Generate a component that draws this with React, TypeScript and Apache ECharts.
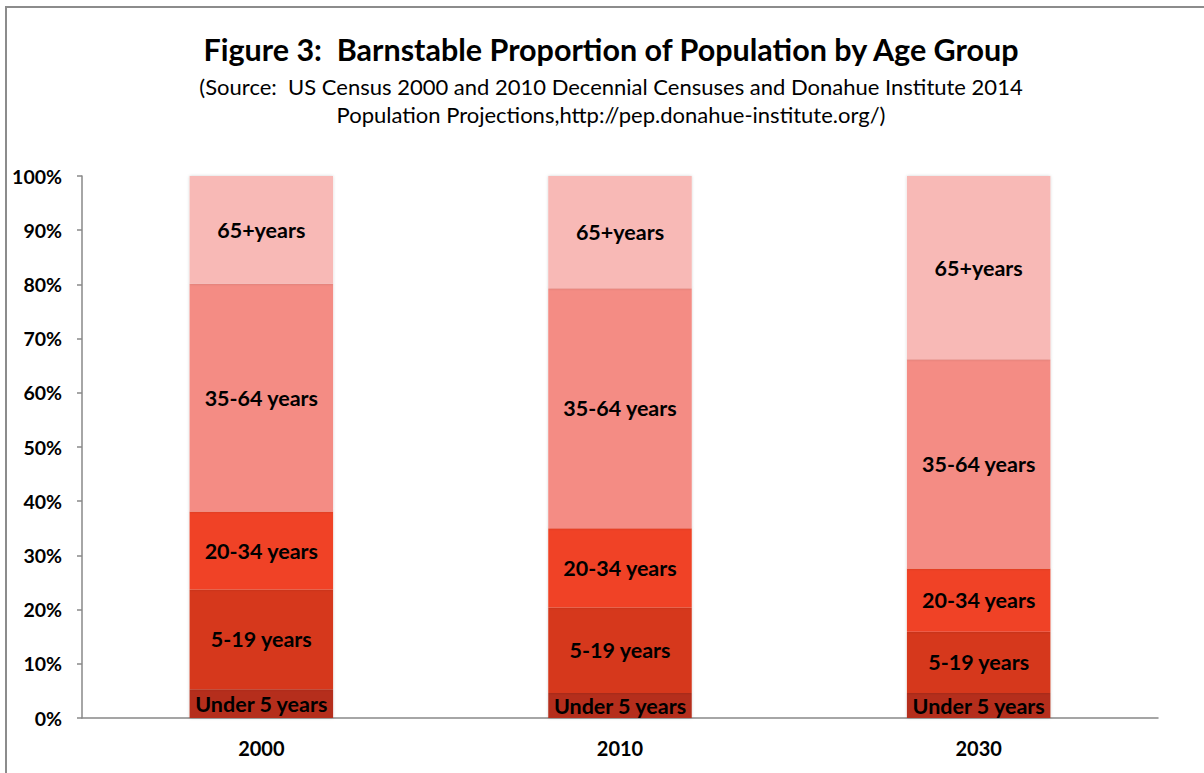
import React, { useEffect, useRef } from "react";
import * as echarts from "echarts";

const categories = ["2000", "2010", "2030"];
const groups = ["Under 5 years", "5-19 years", "20-34 years", "35-64 years", "65+years"];
const under5 = [5.3, 4.6, 4.6];
const age5to19 = [18.4, 15.8, 11.3];
const age20to34 = [14.4, 14.6, 11.7];
const age35to64 = [42.0, 44.3, 38.6];
const age65plus = [19.9, 20.7, 33.8];
const yTicks = [0, 10, 20, 30, 40, 50, 60, 70, 80, 90, 100];
const colors = ["#B52D1B", "#D6391F", "#F04226", "#F48C84", "#F8B9B6"];

export default function App() {
  const ref = useRef<HTMLDivElement>(null);
  useEffect(() => {
    if (!ref.current) return;
    const chart = echarts.init(ref.current, null, { renderer: "svg" });
    const seriesData = [under5, age5to19, age20to34, age35to64, age65plus];
    const font = "Lato, 'Open Sans', sans-serif";
    chart.setOption({
      animation: false,
      backgroundColor: "#fff",
      textStyle: { fontFamily: font },
      title: {
        text: "Figure 3:  Barnstable Proportion of Population by Age Group",
        subtext:
          "(Source:  US Census 2000 and 2010 Decennial Censuses and Donahue Institute 2014\nPopulation Projections,http://pep.donahue-institute.org/)",
        left: 606,
        top: 28,
        textAlign: "center",
        itemGap: 8,
        textStyle: { fontFamily: font, fontSize: 30.5, fontWeight: "bold", color: "#000" },
        subtextStyle: { fontFamily: font, fontSize: 22, color: "#000", lineHeight: 28 },
      },
      graphic: [
        {
          type: "rect",
          shape: { x: 6, y: 7, width: 1400, height: 1000 },
          style: { fill: "none", stroke: "#8c8c8c", lineWidth: 2 },
          silent: true,
        },
      ],
      grid: { left: 82, right: 46, top: 176, bottom: 55 },
      xAxis: {
        type: "category",
        data: categories,
        axisLine: { lineStyle: { color: "#888", width: 1.5 } },
        axisTick: { length: 6, lineStyle: { color: "#888", width: 1.5 } },
        axisLabel: { fontSize: 20, fontWeight: "bold", color: "#000", margin: 20, fontFamily: font },
      },
      yAxis: {
        type: "value",
        min: 0,
        max: 100,
        interval: 10,
        axisLine: { show: true, lineStyle: { color: "#888", width: 1.5 } },
        axisTick: { show: true, length: 5, lineStyle: { color: "#888", width: 1.5 } },
        splitLine: { show: false },
        axisLabel: {
          fontSize: 19.5,
          fontWeight: "bold",
          color: "#000",
          margin: 20,
          fontFamily: font,
          formatter: (v: number) => (yTicks.includes(v) ? v + "%" : ""),
        },
      },
      series: groups.map((g, i) => ({
        name: g,
        type: "bar",
        stack: "total",
        barWidth: "40%",
        data: seriesData[i],
        itemStyle: {
          color: colors[i],
          shadowBlur: 3,
          shadowColor: "rgba(0,0,0,0.18)",
        },
        label: {
          show: true,
          position: "inside",
          formatter: g,
          color: "#000",
          fontSize: 21.5,
          fontWeight: "bold",
          fontFamily: font,
        },
      })),
    });
    return () => chart.dispose();
  }, []);
  return (
    <div
      ref={ref}
      style={{ position: "absolute", left: 0, top: 0, width: 1204, height: 773 }}
    />
  );
}
